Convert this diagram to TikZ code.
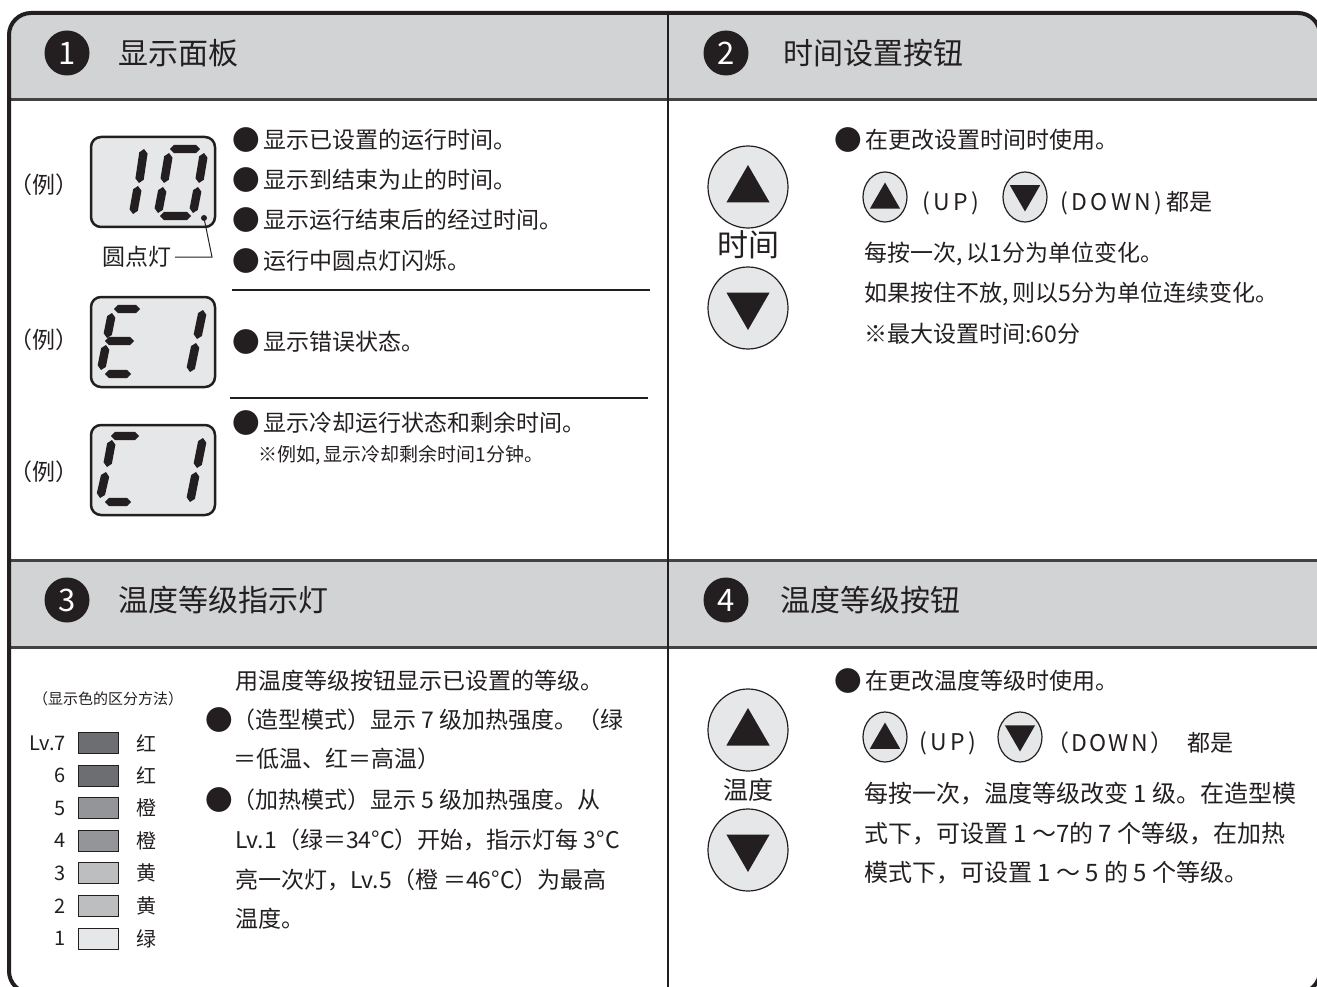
\documentclass[tikz,border=0pt]{standalone}
\usepackage{fontspec}
\setmainfont{Noto Sans CJK SC}
\usetikzlibrary{shapes.geometric,calc}
\definecolor{headgray}{HTML}{D1D3D4}
\definecolor{lcdgray}{HTML}{E6E7E8}
\definecolor{inkblack}{HTML}{231F20}
\definecolor{lvdark}{HTML}{6D6E71}
\definecolor{lvmid}{HTML}{939598}
\definecolor{lvlight}{HTML}{BCBEC0}
\definecolor{lvpale}{HTML}{E6E7E8}
\tikzset{
  numdot/.style={circle, fill=inkblack, text=white, minimum size=45, inner sep=0, font=\fontsize{31}{31}\selectfont},
  headtxt/.style={anchor=west, inner sep=0, font=\fontsize{30}{30}\selectfont},
  bodytxt/.style={anchor=west, inner sep=0, font=\fontsize{23}{26}\selectfont},
  widetxt/.style={anchor=west, inner sep=0, font=\fontsize{24}{27}\selectfont},
  smalltxt/.style={anchor=west, inner sep=0, font=\fontsize{19}{22}\selectfont},
  lvtxt/.style={inner sep=0, font=\fontsize{20}{22}\selectfont},
  lcdbox/.style={rectangle, rounded corners=10, draw=inkblack, line width=2.5, fill=lcdgray, minimum width=124, minimum height=90},
  bigbtn/.style={ellipse, draw=inkblack, line width=1.2, fill=lcdgray, minimum width=80, minimum height=82, inner sep=0},
  smallbtn/.style={ellipse, draw=inkblack, line width=1.2, fill=lcdgray, minimum width=44, minimum height=50, inner sep=0},
  uptri/.style={regular polygon, regular polygon sides=3, fill=inkblack, inner sep=0, minimum size=#1},
  downtri/.style={uptri=#1, shape border rotate=180},
  swatch/.style={rectangle, draw=inkblack, line width=1, minimum width=40, minimum height=21, inner sep=0},
  sepline/.style={line width=1.2, draw=inkblack},
  boldline/.style={line width=3, draw=inkblack!85},
}
% one slanted bar of the seven segment display
\newcommand\lcdseg[2]{%
  \fill[inkblack] (#1) -- ($(#1)!4pt!(#2)!4.2pt!90:(#2)$) -- ($(#2)!4pt!(#1)!4.2pt!-90:(#1)$)
    -- (#2) -- ($(#2)!4pt!(#1)!4.2pt!90:(#1)$) -- ($(#1)!4pt!(#2)!4.2pt!-90:(#2)$) -- cycle;}
% bigger bullet
\newcommand\bulmark{\raisebox{-0.08em}{\scalebox{1.2}{●}}}
\newcommand\bul{\bulmark\hspace{4pt}}
\begin{document}
\begin{tikzpicture}[x=1pt, y=-1pt, every node/.append style={text=inkblack}]
\useasboundingbox (0,0) rectangle (1317,987);
\clip (0,0) rectangle (1317,987);
%frame and header bands
\begin{scope}
  \clip[rounded corners=22] (9,13) rectangle (1320,993);
  \fill[headgray] (9,13) rectangle (1320,100);
  \fill[headgray] (9,560) rectangle (1320,647);
\end{scope}
\draw[boldline] (9,100) -- (1320,100);
\draw[boldline] (9,560) -- (1320,560);
\draw[boldline] (9,647) -- (1320,647);
\draw[line width=2, inkblack] (668,13) -- (668,993);
\draw[line width=4, inkblack, rounded corners=22] (9,13) rectangle (1320,993);

%panel 1
\node[numdot] (n1) at (67,53) {1};
\node[headtxt] (t1) at (118,53) {显示面板};
\node[lcdbox] (lcdA) at (153,182) {};
\node[lcdbox] (lcdB) at (153,342) {};
\node[lcdbox] (lcdC) at (153,470) {};
\node[bodytxt, anchor=center] (egA) at (44,185) {（例）};
\node[bodytxt, anchor=center] (egB) at (44,340) {（例）};
\node[bodytxt, anchor=center] (egC) at (44,472) {（例）};
% 10
\lcdseg{144,149}{139,183} \lcdseg{138,186}{133,214}
\lcdseg{170,149}{200,149} \lcdseg{169,153}{164,183} \lcdseg{163,187}{158,213}
\lcdseg{204,153}{199,183} \lcdseg{198,187}{193,213} \lcdseg{160,216}{191,216}
% E 1
\lcdseg{114,309}{140,309} \lcdseg{112,313}{107,338} \lcdseg{105,341}{134,341}
\lcdseg{106,345}{101,370} \lcdseg{105,374}{131,374}
\lcdseg{203,310}{197,339} \lcdseg{196,343}{190,372}
% C 1
\lcdseg{111,436}{139,436} \lcdseg{112,440}{107,467} \lcdseg{106,472}{100,498}
\lcdseg{105,502}{131,502}
\lcdseg{203,438}{197,468} \lcdseg{196,472}{190,502}
\node[circle, fill=inkblack, inner sep=0, minimum size=6] (dot) at (204,218) {};
\coordinate (bend) at (212,257);
\node[bodytxt, anchor=east, inner xsep=3] (dotname) at (175,257) {圆点灯};
\draw[line width=1, inkblack] (dot) -- (bend) -- (dotname.east);
\node[bodytxt] (p1a) at (232,140) {\bul 显示已设置的运行时间。};
\node[bodytxt] (p1b) at (232,180) {\bul 显示到结束为止的时间。};
\node[bodytxt] (p1c) at (232,220) {\bul 显示运行结束后的经过时间。};
\node[bodytxt] (p1d) at (232,261) {\bul 运行中圆点灯闪烁。};
\draw[sepline] (232,290) -- (650,290);
\node[bodytxt] (p1e) at (232,342) {\bul 显示错误状态。};
\draw[sepline] (230,398) -- (648,398);
\node[bodytxt] (p1f) at (232,423) {\bul 显示冷却运行状态和剩余时间。};
\node[smalltxt] (p1g) at (258,455) {※例如,\,显示冷却剩余时间1分钟。};

%panel 2
\node[numdot] (n2) at (726,53) {2};
\node[headtxt] (t2) at (783,53) {时间设置按钮};
\node[bigbtn] (tup) at (748,187) {};
\node[uptri=50] (tupmark) at (748,190) {};
\node[inner sep=0, font=\fontsize{31}{31}\selectfont] (tlabel) at (748,245) {时间};
\node[bigbtn] (tdown) at (748,308) {};
\node[downtri=50] (tdownmark) at (748,305) {};
\node[bodytxt] (p2a) at (834,140) {\bul 在更改设置时间时使用。};
\node[smallbtn] (tupS) at (885,197) {};
\node[uptri=35] (tupSmark) at (885,200) {};
\node[bodytxt] (p2up) at (922,203) {\addfontfeature{LetterSpace=15}(UP)};
\node[smallbtn] (tdownS) at (1025,197) {};
\node[downtri=35] (tdownSmark) at (1025,194) {};
\node[bodytxt] (p2down) at (1060,203) {{\addfontfeature{LetterSpace=15}(DOWN)}\,都是};
\node[bodytxt] (p2b) at (864,254) {每按一次,\,以1分为单位变化。};
\node[bodytxt] (p2c) at (864,294) {如果按住不放,\,则以5分为单位连续变化。};
\node[bodytxt] (p2d) at (864,334) {※最大设置时间:60分};

%panel 3
\node[numdot] (n3) at (67,600) {3};
\node[headtxt] (t3) at (118,600) {温度等级指示灯};
\node[inner sep=0, font=\fontsize{15}{15}\selectfont] (lvhead) at (108,699) {（显示色的区分方法）};
\foreach \lv/\lbl/\col/\nm in {7/Lv.7/lvdark/红,6/6/lvdark/红,5/5/lvmid/橙,4/4/lvmid/橙,3/3/lvlight/黄,2/2/lvlight/黄,1/1/lvpale/绿}{
  \node[swatch, fill=\col] (lvbox\lv) at (98,{743+(7-\lv)*32.6}) {};
  \node[lvtxt, anchor=east] (lvnum\lv) at (66,{743+(7-\lv)*32.6}) {\lbl};
  \node[lvtxt, anchor=west] (lvname\lv) at (136,{743+(7-\lv)*32.6}) {\nm};
}
\node[bodytxt] (p3a) at (235,681) {用温度等级按钮显示已设置的等级。};
\node[bodytxt] (p3b) at (205,720) {\bulmark（造型模式）显示 7 级加热强度。（绿};
\node[bodytxt] (p3c) at (233,759) {＝低温、红＝高温）};
\node[bodytxt] (p3d) at (205,800) {\bulmark（加热模式）显示 5 级加热强度。从};
\node[bodytxt] (p3e) at (235,840) {Lv.1（绿＝34°C）开始，指示灯每 3°C};
\node[bodytxt] (p3f) at (235,880) {亮一次灯，Lv.5（橙 ＝46°C）为最高};
\node[bodytxt] (p3g) at (235,919) {温度。};

%panel 4
\node[numdot] (n4) at (726,600) {4};
\node[headtxt] (t4) at (780,600) {温度等级按钮};
\node[bigbtn] (wup) at (748,730) {};
\node[uptri=50] (wupmark) at (748,733) {};
\node[inner sep=0, font=\fontsize{25}{25}\selectfont] (wlabel) at (748,790) {温度};
\node[bigbtn] (wdown) at (748,850) {};
\node[downtri=50] (wdownmark) at (748,847) {};
\node[bodytxt] (p4a) at (834,681) {\bul 在更改温度等级时使用。};
\node[smallbtn] (wupS) at (885,737) {};
\node[uptri=35] (wupSmark) at (885,740) {};
\node[bodytxt] (p4up) at (919,743) {\addfontfeature{LetterSpace=15}(UP)};
\node[smallbtn] (wdownS) at (1020,737) {};
\node[downtri=35] (wdownSmark) at (1020,734) {};
\node[bodytxt] (p4down) at (1046,743) {{\addfontfeature{LetterSpace=10}（DOWN）}\hspace{14pt}都是};
\node[widetxt] (p4b) at (864,794) {每按一次，温度等级改变 1 级。在造型模};
\node[widetxt] (p4c) at (864,834) {式下，可设置 1 ～7的 7 个等级，在加热};
\node[widetxt] (p4d) at (864,873) {模式下，可设置 1 ～ 5 的 5 个等级。};
\end{tikzpicture}
\end{document}
